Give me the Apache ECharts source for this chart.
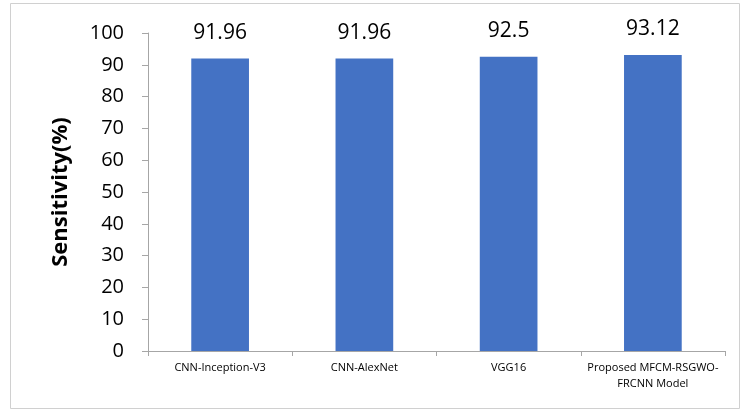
<!DOCTYPE html>
<html>
<head>
<meta charset="utf-8">
<script src="https://cdn.jsdelivr.net/npm/echarts@6/dist/echarts.min.js"></script>
<style>
  html, body { margin: 0; padding: 0; background: #fff; }
  #chart { width: 745px; height: 412px; }
</style>
</head>
<body>
<div id="chart"></div>
<script>
// Models compared and their sensitivity scores
const categories = ['CNN-Inception-V3', 'CNN-AlexNet', 'VGG16', 'Proposed MFCM-RSGWO-\nFRCNN Model'];
const sensitivity = [91.96, 91.96, 92.5, 93.12];
const yTicks = { min: 0, max: 100, interval: 10 };

const FONT = '"Open Sans", "Liberation Sans", sans-serif';

const chart = echarts.init(document.getElementById('chart'));
chart.setOption({
  animation: false,
  backgroundColor: '#fff',
  graphic: [{
    type: 'rect',
    shape: { x: 10.5, y: 3.5, width: 729, height: 405 },
    style: { fill: 'none', stroke: '#d0d0d0', lineWidth: 1 },
    silent: true
  }],
  grid: { left: 148, right: 20, top: 33, bottom: 61, containLabel: false },
  xAxis: {
    type: 'category',
    data: categories,
    axisLine: { show: true, lineStyle: { color: '#a6a6a6', width: 1 } },
    axisTick: { show: true, alignWithLabel: false, length: 5, lineStyle: { color: '#a6a6a6' } },
    axisLabel: { color: '#000', fontFamily: FONT, fontSize: 11, margin: 9, lineHeight: 16, interval: 0 }
  },
  yAxis: {
    type: 'value',
    min: yTicks.min,
    max: yTicks.max,
    interval: yTicks.interval,
    name: 'Sensitivity(%)',
    nameLocation: 'middle',
    nameGap: 76,
    nameMoveOverlap: false,
    nameTextStyle: { color: '#000', fontFamily: FONT, fontSize: 22, fontWeight: 'bold' },
    axisLine: { show: true, lineStyle: { color: '#a6a6a6', width: 1 } },
    axisTick: { show: true, length: 6, lineStyle: { color: '#a6a6a6' } },
    axisLabel: { color: '#000', fontFamily: FONT, fontSize: 20, margin: 24 },
    splitLine: { show: false }
  },
  series: [{
    type: 'bar',
    data: sensitivity,
    barWidth: '40%',
    itemStyle: { color: '#4472C4' },
    label: {
      show: true,
      position: 'top',
      distance: 15,
      color: '#000',
      fontFamily: FONT,
      fontSize: 21
    }
  }]
});
</script>
</body>
</html>
